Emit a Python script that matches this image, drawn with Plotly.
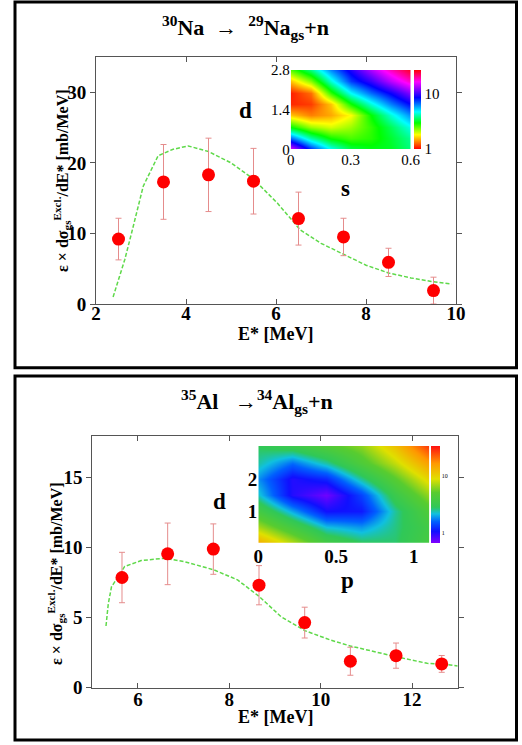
import plotly.graph_objects as go

W, H = 522, 745

# ---------------- 30Na -> 29Na_gs + n ----------------
na_E = [2.5, 3.5, 4.5, 5.5, 6.5, 7.5, 8.5, 9.5]
na_sigma = [9.2, 17.3, 18.3, 17.4, 12.1, 9.5, 5.9, 1.9]
na_err = [2.95, 5.3, 5.2, 4.65, 3.75, 2.65, 2.0, 1.9]
na_fit_E = [2.38, 2.5, 2.64, 2.8, 3.05, 3.38, 3.7, 4.05, 4.5, 5.0, 5.5, 6.03,
            6.54, 7.0, 7.5, 8.0, 8.5, 9.0, 9.45, 9.9]
na_fit_sigma = [1.0, 3.4, 6.3, 10.3, 16.7, 21.0, 21.9, 22.4, 21.6, 20.0, 17.7, 14.3,
                10.5, 8.6, 7.0, 5.5, 4.4, 3.7, 3.2, 2.85]
na_map_s = [0.0, 0.1, 0.2, 0.3, 0.4, 0.5, 0.6]
na_map_d = [0.0, 0.4, 0.8, 1.2, 1.6, 2.0, 2.4, 2.8]
na_map_logchi2 = [
    [1.18, 0.89, 0.67, 0.53, 0.49, 0.50, 0.57],
    [0.82, 0.60, 0.46, 0.41, 0.44, 0.51, 0.59],
    [0.47, 0.34, 0.29, 0.34, 0.43, 0.54, 0.66],
    [0.20, 0.13, 0.17, 0.26, 0.47, 0.64, 0.79],
    [0.04, 0.06, 0.20, 0.46, 0.64, 0.80, 0.93],
    [0.03, 0.11, 0.43, 0.67, 0.82, 0.94, 1.08],
    [0.20, 0.36, 0.64, 0.87, 0.99, 1.14, 1.27],
    [0.40, 0.57, 0.79, 0.96, 1.12, 1.27, 1.40],
]
na_map_ticks = ["1", "10"]

# ---------------- 35Al -> 34Al_gs + n ----------------
al_E = [5.65, 6.65, 7.65, 8.65, 9.65, 10.65, 11.65, 12.65]
al_sigma = [7.87, 9.56, 9.9, 7.32, 4.65, 1.89, 2.29, 1.7]
al_err = [1.8, 2.2, 1.8, 1.4, 1.1, 1.0, 0.9, 0.6]
al_fit_E = [5.3, 5.35, 5.42, 5.71, 6.07, 6.58, 7.02, 7.66, 8.18, 8.66, 9.13, 9.65,
            10.21, 10.65, 11.64, 12.33, 12.64, 13.0]
al_fit_sigma = [4.41, 6.0, 7.2, 8.66, 9.08, 9.25, 9.0, 8.42, 7.7, 6.5, 5.08, 4.08,
                3.41, 2.98, 2.22, 1.74, 1.7, 1.55]
al_map_p = [0.0, 0.22, 0.44, 0.66, 0.88, 1.1]
al_map_d = [0.0, 0.5, 1.0, 1.5, 2.0, 2.5, 3.05]
al_map_logchi2 = [
    [1.15, 0.88, 0.59, 0.46, 0.44, 0.60],
    [0.85, 0.59, 0.34, 0.28, 0.42, 0.58],
    [0.59, 0.30, 0.03, 0.05, 0.40, 0.66],
    [0.36, 0.00, -0.14, 0.14, 0.53, 0.82],
    [0.27, 0.00, 0.08, 0.40, 0.70, 1.00],
    [0.39, 0.22, 0.39, 0.65, 0.90, 1.20],
    [0.46, 0.53, 0.66, 0.80, 1.07, 1.44],
]
al_map_ticks = ["1", "10"]

SERIF = "Liberation Serif"


def px_x(v):
    return v / W


def px_y(v):
    return 1 - v / H


fit_line = dict(color="#5fd94a", width=1.5, dash="4px,2px")
err_style = dict(type="data", color="#e58c8c", thickness=1, width=3)
marker_style = dict(color="#ff0000", size=13, line=dict(width=0))

hsv_scale = [[0.0, "#ff0000"], [0.09, "#ff8000"], [0.18, "#ffff00"], [0.33, "#00ff00"],
             [0.47, "#00ffff"], [0.65, "#0000ff"], [0.85, "#ff00ff"], [1.0, "#ff0000"]]
jet_scale = [[0.0, "#8000ff"], [0.12, "#1010ff"], [0.22, "#0060ff"], [0.30, "#10c0e0"],
             [0.37, "#30c858"], [0.52, "#58cc30"], [0.66, "#e0e000"], [0.82, "#ff9900"],
             [1.0, "#ff1010"]]

fig = go.Figure()

# top panel
fig.add_trace(go.Scatter(x=na_fit_E, y=na_fit_sigma, mode="lines", line=fit_line,
                         xaxis="x", yaxis="y", showlegend=False, hoverinfo="skip"))
fig.add_trace(go.Scatter(x=na_E, y=na_sigma, mode="markers", marker=marker_style,
                         error_y=dict(array=na_err, **err_style),
                         xaxis="x", yaxis="y", showlegend=False))
fig.add_trace(go.Heatmap(x=na_map_s, y=na_map_d, z=na_map_logchi2, zsmooth="best",
                         colorscale=hsv_scale, zmin=0, zmax=1.43,
                         xaxis="x2", yaxis="y2",
                         colorbar=dict(x=px_x(414), xanchor="left", y=px_y(109.65), yanchor="middle",
                                       len=79.3 / H, lenmode="fraction", thickness=7,
                                       thicknessmode="pixels", outlinewidth=0, xpad=0, ypad=0,
                                       tickvals=[0, 1], ticktext=na_map_ticks, ticks="",
                                       tickfont=dict(family=SERIF, size=15, color="black"))))

# bottom panel
fig.add_trace(go.Scatter(x=al_fit_E, y=al_fit_sigma, mode="lines", line=fit_line,
                         xaxis="x3", yaxis="y3", showlegend=False, hoverinfo="skip"))
fig.add_trace(go.Scatter(x=al_E, y=al_sigma, mode="markers", marker=marker_style,
                         error_y=dict(array=al_err, **err_style),
                         xaxis="x3", yaxis="y3", showlegend=False))
fig.add_trace(go.Heatmap(x=al_map_p, y=al_map_d, z=al_map_logchi2, zsmooth="best",
                         colorscale=jet_scale, zmin=-0.17, zmax=1.525,
                         xaxis="x4", yaxis="y4",
                         colorbar=dict(x=px_x(430.7), xanchor="left", y=px_y(494.35), yanchor="middle",
                                       len=96.7 / H, lenmode="fraction", thickness=8.6,
                                       thicknessmode="pixels", outlinewidth=0, xpad=0, ypad=0,
                                       tickvals=[0, 1], ticktext=al_map_ticks, ticks="",
                                       tickfont=dict(family=SERIF, size=6, color="black"))))

main_tickfont = dict(family=SERIF, size=19, color="black", weight="bold")
main_common = dict(showgrid=False, zeroline=False, showline=True, linecolor="#555",
                   linewidth=1, mirror="ticks", ticklen=5, tickcolor="#555",
                   tickfont=main_tickfont, automargin=False)
inset_common = dict(showgrid=False, zeroline=False, showline=False, ticks="", automargin=False)

fig.update_layout(
    width=W, height=H,
    margin=dict(l=0, r=0, t=0, b=0, pad=0, autoexpand=False),
    paper_bgcolor="white", plot_bgcolor="rgba(0,0,0,0)",
    showlegend=False,
    xaxis=dict(domain=[px_x(96), px_x(456)], range=[2, 10], tickvals=[2, 4, 6, 8, 10],
               anchor="y", ticks="inside", ticklabelstandoff=-8, **main_common),
    yaxis=dict(domain=[px_y(304), px_y(57)], range=[0, 35], tickvals=[0, 10, 20, 30],
               anchor="x", ticks="outside", **main_common),
    xaxis2=dict(domain=[px_x(290.7), px_x(410.7)], range=[0, 0.6], tickvals=[0, 0.3, 0.6],
                ticktext=["0", "0.3", "0.6"], anchor="y2",
                tickfont=dict(family=SERIF, size=15, color="black"), **inset_common),
    yaxis2=dict(domain=[px_y(149.3), px_y(70)], range=[0, 2.8], tickvals=[0, 1.4, 2.8],
                ticktext=["0", "1.4", "2.8"], anchor="x2",
                tickfont=dict(family=SERIF, size=15, color="black"), **inset_common),
    xaxis3=dict(domain=[px_x(92.3), px_x(457.7)], range=[5, 13], tickvals=[6, 8, 10, 12],
                anchor="y3", ticks="inside", ticklabelstandoff=-6, **main_common),
    yaxis3=dict(domain=[px_y(687.7), px_y(435.7)], range=[0, 18], tickvals=[0, 5, 10, 15],
                anchor="x3", ticks="outside", **main_common),
    xaxis4=dict(domain=[px_x(258.3), px_x(429.3)], range=[0, 1.1], tickvals=[0, 0.5, 1],
                ticktext=["0", "0.5", "1"], anchor="y4",
                tickfont=dict(family=SERIF, size=19, color="black", weight="bold"), **inset_common),
    yaxis4=dict(domain=[px_y(542.7), px_y(446)], range=[0, 3.05], tickvals=[1, 2],
                ticktext=["1", "2"], anchor="x4",
                tickfont=dict(family=SERIF, size=19, color="black", weight="bold"), **inset_common),
)

# outer frames
for y0, y1 in [(2, 367.7), (376, 740)]:
    fig.add_shape(type="rect", xref="paper", yref="paper",
                  x0=px_x(15), x1=px_x(516.5), y0=px_y(y1), y1=px_y(y0),
                  line=dict(color="black", width=3), fillcolor="rgba(0,0,0,0)")

ytitle = "<b>ε × dσ<sub>gs</sub><sup>Excl.</sup>/dE* [mb/MeV]</b>"
annos = [
    dict(text="<b><sup>30</sup>Na  →  <sup>29</sup>Na<sub>gs</sub>+n</b>", x=245, y=27, size=22),
    dict(text="<b><sup>35</sup>Al   →<sup>34</sup>Al<sub>gs</sub>+n</b>", x=257, y=401, size=22),
    dict(text=ytitle, x=62, y=181, size=16, angle=-90),
    dict(text=ytitle, x=56, y=574, size=16, angle=-90),
    dict(text="<b>E* [MeV]</b>", x=275, y=334, size=18),
    dict(text="<b>E* [MeV]</b>", x=275, y=717, size=18),
    dict(text="<b>d</b>", x=245, y=111, size=23),
    dict(text="<b>s</b>", x=345, y=188, size=23),
    dict(text="<b>d</b>", x=219, y=501, size=23),
    dict(text="<b>p</b>", x=347, y=580, size=23),
]
for a in annos:
    fig.add_annotation(text=a["text"], x=px_x(a["x"]), y=px_y(a["y"]), xref="paper", yref="paper",
                       xanchor="center", yanchor="middle", showarrow=False,
                       textangle=a.get("angle", 0),
                       font=dict(family=SERIF, size=a["size"], color="black"))

fig.write_html("out.html", config={"displayModeBar": False},
               post_script="document.body.style.margin='0px';")
